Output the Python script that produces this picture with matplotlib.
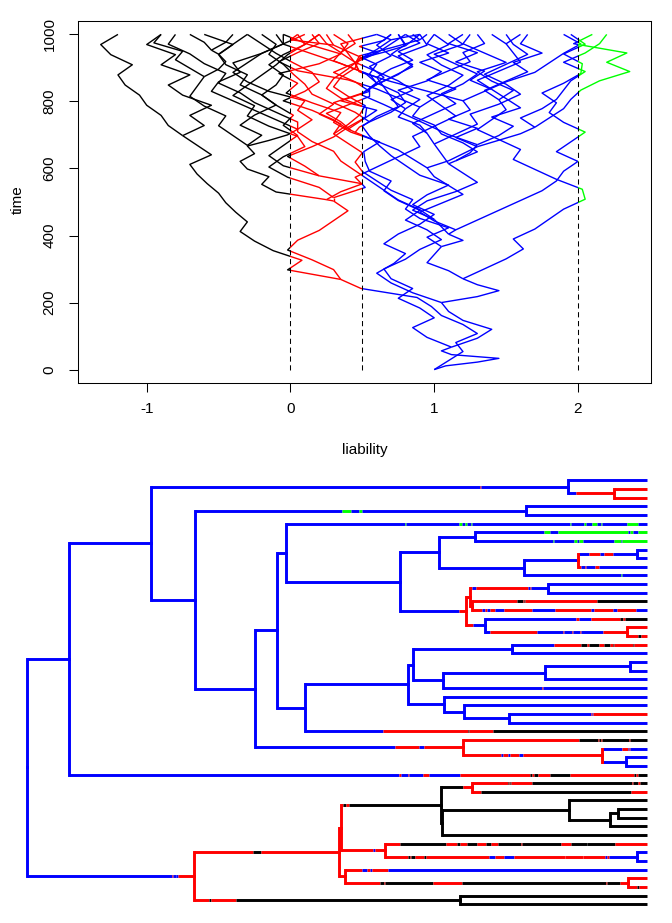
import numpy as np
import matplotlib
matplotlib.use("Agg")
import matplotlib.pyplot as plt
from matplotlib.collections import LineCollection
from matplotlib.patches import Rectangle

plt.rcParams['font.family'] = ['Liberation Sans', 'DejaVu Sans']

# ---------------- tree topology (upper child, lower child) ----------------
children = {
    'root': ('A', 'BA'), 'A': ('B', 't34'), 'B': ('C', 'E'), 'C': ('t0', 'D'),
    'D': ('t1', 't2'), 'E': ('F', 'G'), 'F': ('t3', 't4'), 'G': ('H', 'AF'),
    'H': ('I', 'V'), 'I': ('t5', 'J'), 'J': ('K', 'P'), 'K': ('L', 'M'),
    'L': ('t6', 't7'), 'M': ('N', 't11'), 'N': ('O', 't10'), 'O': ('t8', 't9'),
    'P': ('Q', 'T'), 'Q': ('R', 'S'), 'R': ('t12', 't13'), 'S': ('t14', 't15'),
    'T': ('t16', 'U'), 'U': ('t17', 't18'), 'V': ('W', 't29'), 'W': ('X', 'AC'),
    'X': ('Y', 'Z'), 'Y': ('t19', 't20'), 'Z': ('AA', 't24'), 'AA': ('AB', 't23'),
    'AB': ('t21', 't22'), 'AC': ('t25', 'AD'), 'AD': ('t26', 'AE'),
    'AE': ('t27', 't28'), 'AF': ('t30', 'AG'), 'AG': ('t31', 'AH'),
    'AH': ('t32', 't33'), 'BA': ('BB', 'BL'), 'BB': ('BB2', 'BE'),
    'BB2': ('BC', 'BD'), 'BC': ('BF', 'BC2'), 'BF': ('t35', 't36'),
    'BC2': ('BG', 't41'), 'BG': ('t37', 'BH'), 'BH': ('BI', 't40'),
    'BI': ('t38', 't39'), 'BD': ('t42', 'BJ'), 'BJ': ('t43', 't44'),
    'BE': ('t45', 'BK'), 'BK': ('t46', 't47'), 'BL': ('t48', 't49'),
}

# node times (tips are at 1000)
node_time = {
    'root': 0, 'A': 67, 'B': 200, 'C': 872, 'D': 946, 'E': 271, 'F': 805,
    'G': 367, 'H': 404, 'I': 417, 'J': 602, 'K': 665, 'L': 723, 'M': 802,
    'N': 888, 'O': 984, 'P': 708, 'Q': 714, 'R': 840, 'S': 717, 'T': 739,
    'U': 968, 'V': 448, 'W': 614, 'X': 623, 'Y': 783, 'Z': 671, 'AA': 836,
    'AB': 972, 'AC': 673, 'AD': 705, 'AE': 778, 'AF': 703, 'AG': 928,
    'AH': 966, 'BA': 269, 'BB': 503, 'BB2': 507, 'BC': 667, 'BF': 717,
    'BC2': 669, 'BG': 874, 'BH': 941, 'BI': 953, 'BD': 578, 'BJ': 984,
    'BE': 513, 'BK': 970, 'BL': 698,
}
tip_time = 1000

# liability at nodes and tips
node_liab = {
    'root': 1.00, 'A': 1.12, 'B': 1.05, 'C': 0.6, 'D': 0.35, 'E': 1.2, 'F': 1.45,
    'G': 1.05, 'H': 1.1, 'I': 1.15, 'J': 0.95, 'K': 1.3, 'L': 1.7, 'M': 1.2,
    'N': 0.48, 'O': 0.9, 'P': 0.45, 'Q': 0.42, 'R': 0.55, 'S': 0.4, 'T': 0.55,
    'U': 0.3, 'V': 1.0, 'W': 1.1, 'X': 1.15, 'Y': 0.9, 'Z': 1.3, 'AA': 1.4,
    'AB': 1.5, 'AC': 1.0, 'AD': 0.95, 'AE': 0.8, 'AF': 0.3, 'AG': 0.48,
    'AH': 0.8, 'BA': 0.35, 'BB': 0.3, 'BB2': 0.25, 'BC': -0.3, 'BF': 0.05,
    'BC2': -0.3, 'BG': -0.6, 'BH': -0.5, 'BI': -0.55, 'BD': 0.2, 'BJ': 0.7,
    'BE': 0.3, 'BK': 0.1, 'BL': -0.75,
    't0': 0.8, 't1': 0.2, 't2': 0.4, 't3': 1.25, 't4': 1.65, 't5': 1.95,
    't6': 2.1, 't7': 2.2, 't8': 0.95, 't9': 0.85, 't10': 0.8, 't11': 1.9,
    't12': 0.9, 't13': 0.7, 't14': -0.3, 't15': 0.6, 't16': -0.1, 't17': 0.25,
    't18': 0.05, 't19': 0.15, 't20': 1.3, 't21': 1.6, 't22': 1.4, 't23': 1.2,
    't24': 0.75, 't25': 1.5, 't26': 1.1, 't27': 0.3, 't28': 1.0, 't29': -0.8,
    't30': -0.2, 't31': 0.7, 't32': 0.9, 't33': 0.75, 't34': -0.05,
    't35': -0.05, 't36': 0.1, 't37': -0.9, 't38': -0.7, 't39': -0.4,
    't40': -0.3, 't41': -0.6, 't42': 0.2, 't43': 0.9, 't44': 0.6, 't45': 1.0,
    't46': 0.2, 't47': 0.05, 't48': -1.2, 't49': -0.9,
}

# liability read along each edge (keyed by the edge's child), evenly spaced in time
edge_liab = {
    'A': [1.08, 1.3, 1.45, 1.12, 1.05],
    'BA': [1.1, 1.2, 1.15, 1.3, 1.2, 1.05, 0.98, 0.88, 0.49],
    'B': [1.3, 1.4, 1.2, 1.1],
    't34': [0.95, 0.85, 1.0, 0.9, 0.75, 0.85, 0.7, 0.65, 0.8, 0.9, 1.05, 0.95, 0.8,
            0.9, 0.75, 0.65, 0.7, 0.55, 0.52, 0.51, 0.62, 0.42, 0.3, 0.35, 0.15,
            -0.03, 0.05, -0.08, 0.2, 0.35, 0.12],
    'C': [0.85, 0.7, 0.6, 0.72, 0.8, 0.65, 0.75, 0.9, 1.0, 0.85, 0.95, 1.1, 0.9,
          0.8, 0.7, 0.62, 0.55, 0.5, 0.6, 0.75, 0.7, 0.65],
    'E': [1.3, 1.45, 1.3],
    'F': [1.35, 1.5, 1.62, 1.55, 1.7, 1.8, 1.9, 2.05, 2.03, 1.85, 1.7, 1.55, 1.6,
          1.45, 1.3, 1.4, 1.5],
    't3': [1.55, 1.4, 1.3, 1.5, 1.35, 1.2],
    't4': [1.35, 1.5, 1.65, 1.55, 1.75, 1.6],
    't0': [0.7, 0.85, 0.75, 0.9],
    'D': [0.45, 0.3],
    't1': [0.25], 't2': [0.45],
    'G': [1.1, 0.95, 1.0],
    'H': [1.2],
    't5': [1.3, 1.45, 1.6, 1.75, 1.85, 1.9, 2.0, 1.85, 1.95, 2.05, 1.9, 1.8, 1.85,
           1.75, 1.9, 2.02, 2.03, 1.9, 2.05],
    'J': [1.0, 0.9, 1.05, 1.2, 1.1, 1.0],
    'K': [1.1, 1.2],
    'L': [1.45, 1.6],
    't6': [1.8, 1.9, 1.95, 2.02, 2.15, 2.36, 2.2, 2.34, 1.97],
    't7': [1.6, 1.75, 1.85, 1.9, 1.95, 2.05, 1.9, 2.05, 2.15],
    'M': [1.15, 1.3, 1.1, 1.25],
    'N': [0.95, 0.7],
    'O': [0.45, 0.48, 0.7],
    't10': [0.45, 0.6, 0.7],
    't11': [1.35, 1.5, 1.7, 1.8, 1.9, 2.02],
    'P': [0.85, 0.75, 0.6],
    'R': [0.35, 0.25, 0.4, 0.55],
    't12': [0.7, 0.85, 0.75, 0.95],
    't13': [0.65, 0.55, 0.7, 0.6],
    't14': [0.3, 0.15, -0.05, 0.1, 0.2, 0.15, 0.02, -0.1, -0.2],
    't15': [0.5, 0.6, 0.35, 0.55, 0.45, 0.3, 0.45, 0.4, 0.35],
    'T': [0.48],
    't16': [0.7, 0.8, 0.75, 0.6, 0.52, 0.35, 0.15, -0.05],
    'U': [0.45, 0.3, 0.5, 0.6, 0.55, 0.6, 0.45],
    't18': [0.0],
    'V': [1.05],
    'W': [0.85, 0.95, 1.15, 1.3, 1.2],
    'Y': [1.3, 1.2, 1.05, 1.0, 0.85],
    't19': [0.75, 0.6, 0.4, 0.05, -0.08, 0.05, 0.2],
    't20': [1.0, 1.15, 0.95, 1.1, 1.25, 1.2, 1.35],
    'Z': [1.25],
    'AA': [1.45, 1.55, 1.4, 1.6, 1.5],
    'AB': [1.3, 1.45, 1.6, 1.55],
    't23': [1.25, 1.35, 1.15, 1.3, 1.1],
    't24': [1.1, 0.95, 0.8, 0.65, 0.49, 0.6, 0.75, 0.85, 0.7, 0.8],
    'AC': [1.05],
    't25': [1.15, 1.3, 1.25, 1.45, 1.6, 1.5, 1.35, 1.5, 1.65, 1.55],
    't26': [0.85, 1.0, 1.15, 1.05, 1.2, 1.3, 1.15, 1.0, 1.2],
    'AE': [0.9, 0.75],
    't27': [0.7, 0.85, 0.75, 0.6, 0.45, 0.35, 0.4],
    't28': [0.9, 0.75, 0.95, 1.05, 0.9, 1.1, 0.95],
    't29': [0.9, 0.75, 0.65, 0.55, 0.45, 0.35, 0.3, 0.15, 0.05, 0.05, -0.1, -0.25,
            -0.35, -0.5, -0.45, -0.6, -0.7, -0.85],
    'AF': [0.95, 1.1, 0.9, 0.8, 0.85, 0.7, 0.6, 0.5, 0.45, 0.5, 0.4],
    't30': [0.35, 0.2, 0.3, 0.15, 0.1, 0.02, -0.05, -0.15, -0.1],
    'AG': [0.4, 0.48, 0.52, 0.4, 0.3, 0.35, 0.45],
    't31': [0.6, 0.48, 0.65],
    'AH': [0.65],
    'BB': [0.3, 0.15, -0.02, 0.05, 0.2, 0.3, 0.4],
    'BC': [-0.1, -0.2, -0.15, -0.3, -0.35, -0.25],
    'BF': [-0.15, -0.02],
    't35': [0.15, 0.05, 0.1, -0.15, -0.3, -0.4, -0.3, -0.2, -0.05],
    't36': [-0.1, -0.25, -0.4, -0.55, -0.5, -0.35, -0.4, -0.2, -0.05],
    'BG': [-0.4, -0.5, -0.45, -0.6, -0.7, -0.65],
    't37': [-0.7, -0.8, -0.75, -0.95],
    'BH': [-0.5, -0.45],
    't38': [-0.6], 't39': [-0.45], 't40': [-0.4],
    't41': [-0.2, -0.35, -0.25, -0.1, -0.2, -0.35, -0.3, -0.45, -0.5, -0.4],
    'BD': [0.35, 0.5],
    't42': [-0.05, -0.15, -0.05, 0.05, -0.05, 0.02, -0.1, -0.2, -0.1, -0.05, -0.15,
            -0.05, 0.1],
    'BJ': [0.1, -0.02, 0.15, 0.3, 0.4, 0.52, 0.53, 0.35, 0.25, 0.3, 0.4, 0.48, 0.6],
    't45': [0.52, 0.45, 0.6, 0.75, 0.9, 0.85, 1.0, 1.15, 1.05, 0.95, 1.1, 1.2, 1.05,
            0.95, 1.1],
    'BK': [0.2, -0.02, -0.15, -0.05, 0.1, 0.05, -0.15, -0.3, -0.25, -0.4, -0.3,
           -0.2, -0.1, -0.02],
    'BL': [-0.02, 0.08, -0.12, -0.25, -0.35, -0.3, -0.38, -0.45, -0.5, -0.58,
           -0.65, -0.7, -0.55, -0.65],
    't48': [-0.85, -0.9, -1.0, -1.05, -1.15, -1.2, -1.1, -1.25, -1.32],
    't49': [-0.6, -0.7, -0.55, -0.75, -0.85, -0.7, -0.9, -0.8, -1.0],
}

# mapped regimes along each edge of the tree: (start time, state)
edge_paint = {
    'A': 'b', 'B': 'b',
    't34': [(67, 'b'), (600, 'r'), (603, 'b'), (614, 'r'), (616, 'b'), (638, 'r'),
            (648, 'b'), (698, 'r'), (812, 'k'), (815, 'r'), (817, 'k'), (824, 'r'),
            (843, 'k'), (876, 'r'), (979, 'k'), (983, 'r'), (985, 'k')],
    'C': [(200, 'b'), (731, 'r'), (733, 'b')],
    't0': 'b', 'D': [(872, 'b'), (886, 'r')], 't1': 'r', 't2': 'r',
    'E': 'b', 'F': [(271, 'b'), (508, 'g'), (522, 'b'), (535, 'g'), (540, 'b')],
    't3': 'b', 't4': 'b', 'G': 'b', 'H': 'b', 'I': 'b',
    't5': [(417, 'b'), (609, 'g'), (611, 'b'), (696, 'g'), (701, 'b'), (707, 'g'),
           (709, 'b'), (716, 'g'), (718, 'b'), (875, 'g'), (877, 'b'), (899, 'g'),
           (901, 'b'), (912, 'g'), (920, 'b'), (925, 'g'), (927, 'b'), (968, 'g'),
           (986, 'b')],
    'J': 'b', 'K': 'b', 'L': 'b',
    't6': [(723, 'b'), (834, 'g'), (843, 'b'), (857, 'g'), (969, 'b'), (973, 'g'),
           (977, 'b'), (986, 'g')],
    't7': [(723, 'b'), (848, 'g'), (850, 'b'), (883, 'g'), (887, 'b'), (890, 'g'),
           (896, 'b'), (946, 'g'), (958, 'b'), (960, 'g')],
    'M': 'b', 'N': 'b',
    'O': [(888, 'r'), (890, 'b'), (906, 'r'), (924, 'b'), (931, 'r'), (945, 'b')],
    't8': 'b', 't9': 'b',
    't10': [(888, 'r'), (894, 'b'), (900, 'r'), (902, 'b'), (916, 'r'), (923, 'b')],
    't11': [(802, 'b'), (958, 'g'), (960, 'b')],
    'P': [(602, 'b'), (696, 'r')], 'Q': 'r',
    'R': [(714, 'r'), (717, 'b'), (724, 'r'), (808, 'b'), (812, 'r'), (813, 'b')],
    't12': 'b', 't13': 'b', 'S': 'r',
    't14': [(717, 'r'), (790, 'k'), (800, 'r'), (802, 'k'), (804, 'r'), (919, 'k')],
    't15': [(717, 'r'), (734, 'b'), (738, 'r'), (742, 'b'), (746, 'r'), (755, 'b'),
            (769, 'r'), (814, 'b'), (852, 'r'), (910, 'b'), (914, 'r'), (945, 'b'),
            (952, 'r'), (983, 'b')],
    'T': [(708, 'r'), (720, 'b')],
    't16': [(739, 'b'), (886, 'r'), (890, 'b'), (910, 'r'), (957, 'k'), (962, 'r'),
            (964, 'k')],
    'U': [(739, 'b'), (747, 'r'), (823, 'b'), (865, 'r'), (866, 'b'), (879, 'r'),
          (880, 'b'), (892, 'r'), (893, 'b'), (929, 'r')],
    't17': 'r', 't18': [(968, 'r'), (986, 'k'), (991, 'r')],
    'V': 'b', 'W': 'b', 'X': 'b', 'Y': 'b',
    't19': [(783, 'b'), (850, 'r'), (894, 'k'), (903, 'r'), (907, 'k'), (923, 'r'),
            (931, 'k'), (940, 'r'), (945, 'k'), (947, 'r'), (977, 'k'), (979, 'r')],
    't20': 'b', 'Z': 'b', 'AA': 'b', 'AB': 'b', 't21': 'b', 't22': 'b', 't23': 'b',
    't24': [(671, 'b'), (830, 'r'), (832, 'b')],
    'AC': 'b', 't25': 'b', 'AD': 'b', 't26': 'b', 'AE': 'b',
    't27': [(778, 'b'), (909, 'r'), (912, 'b'), (913, 'r')],
    't28': 'b',
    't29': [(448, 'b'), (574, 'r'), (711, 'k'), (713, 'r'), (752, 'k')],
    'AF': [(367, 'b'), (594, 'r'), (632, 'b'), (641, 'r')],
    't30': [(703, 'r'), (890, 'k'), (921, 'r'), (923, 'k'), (926, 'r'), (928, 'k'),
            (971, 'r'), (972, 'k')],
    'AG': [(703, 'r'), (765, 'b'), (768, 'r'), (776, 'b'), (779, 'r'), (794, 'b'),
           (800, 'r')],
    't31': [(928, 'r'), (929, 'b'), (959, 'r'), (969, 'b'), (971, 'r'), (973, 'b')],
    'AH': [(928, 'r'), (929, 'b')], 't32': 'b', 't33': 'b',
    'BA': [(0, 'b'), (234, 'r'), (236, 'b'), (240, 'r'), (241, 'b'), (244, 'r')],
    'BB': [(269, 'r'), (365, 'k'), (377, 'r')],
    'BB2': 'r',
    'BC': [(507, 'r'), (510, 'k'), (515, 'r'), (520, 'k')],
    'BF': [(667, 'k'), (703, 'r')],
    't35': [(717, 'r'), (775, 'k'), (777, 'r'), (779, 'k'), (781, 'r'), (814, 'k'),
            (976, 'r'), (977, 'k'), (986, 'r'), (988, 'k')],
    't36': [(717, 'r'), (732, 'k'), (974, 'r')],
    'BC2': 'k', 'BG': 'k', 't37': 'k', 'BH': 'k', 'BI': 'k', 't38': 'k',
    't39': 'k', 't40': 'k', 't41': 'k',
    'BD': [(507, 'r'), (558, 'b'), (562, 'r')],
    't42': [(578, 'r'), (602, 'k'), (676, 'r'), (693, 'k'), (698, 'r'), (710, 'k'),
            (725, 'r'), (741, 'k'), (748, 'r'), (760, 'k'), (797, 'r'), (798, 'k'),
            (862, 'r'), (878, 'k'), (903, 'r'), (904, 'k'), (948, 'r')],
    'BJ': [(578, 'r'), (614, 'k'), (617, 'r'), (620, 'k'), (625, 'r'), (640, 'k'),
           (643, 'r'), (745, 'b'), (755, 'r'), (769, 'b'), (786, 'r'), (867, 'b'),
           (868, 'r'), (896, 'b'), (897, 'r'), (932, 'b'), (936, 'r'), (939, 'b')],
    't43': 'b', 't44': 'b', 'BE': 'r',
    't45': [(513, 'r'), (541, 'b'), (549, 'r'), (553, 'b'), (557, 'r'), (582, 'b')],
    'BK': [(513, 'r'), (570, 'k'), (576, 'r'), (577, 'k'), (655, 'r'), (701, 'k'),
           (934, 'r'), (936, 'k'), (957, 'r')],
    't46': 'r', 't47': [(970, 'r'), (984, 'k'), (987, 'r')],
    'BL': [(269, 'r'), (293, 'k'), (296, 'r'), (337, 'k')],
    't48': 'k', 't49': 'k',
}

state_color = {'k': '#000000', 'r': '#FF0000', 'b': '#0000FF', 'g': '#00FF00'}
thresholds = [0.0, 0.5, 2.0]
regimes = [(-10, 0.0, 'k'), (0.0, 0.5, 'r'), (0.5, 2.0, 'b'), (2.0, 10, 'g')]
x_ticks = [-1, 0, 1, 2]
y_ticks = [0, 200, 400, 600, 800, 1000]

# ---------------- helpers ----------------
parent_of = {}
for p, cs in children.items():
    for c in cs:
        parent_of[c] = p

def t_of(n):
    return node_time.get(n, tip_time)

ycache = {}
def y_of(n):
    if n in ycache:
        return ycache[n]
    if n in children:
        v = np.mean([y_of(c) for c in children[n]])
    else:
        v = float(int(n[1:]))
    ycache[n] = v
    return v

# preorder edge list
edges = []
def walk(n):
    if n in children:
        for c in children[n]:
            edges.append((n, c))
            walk(c)
walk('root')

# ---------------- figure ----------------
W, H = 672, 923
fig = plt.figure(figsize=(W / 100, H / 100), dpi=100)

# top panel
ax1 = fig.add_axes([78 / W, 1 - 383 / H, (651 - 78) / W, (383 - 21) / H])
paths = []
for p, c in edges:
    vals = [node_liab[p]] + edge_liab.get(c, []) + [node_liab[c]]
    ts = np.linspace(t_of(p), t_of(c), len(vals))
    paths.append(np.column_stack([vals, ts]))
for lo, hi, s in regimes:
    lc = LineCollection(paths, colors=state_color[s], linewidths=1.0)
    ax1.add_collection(lc)
    clip = Rectangle((lo, -200), hi - lo, 1500, transform=ax1.transData)
    lc.set_clip_path(clip)
for th in thresholds:
    ax1.plot([th, th], [0, tip_time], color='black', lw=0.75,
             linestyle=(0, (5.0, 3.5)))
ax1.set_xlim(-1.478, 2.508)
ax1.set_ylim(-40, 1040)
ax1.set_xticks(x_ticks)
ax1.set_xticklabels([str(v) for v in x_ticks])
ax1.set_yticks(y_ticks)
ax1.set_yticklabels([str(v) for v in y_ticks], rotation=90, va='center')
ax1.tick_params(direction='out', length=6.5, width=0.75, labelsize=11)
ax1.tick_params(axis='x', pad=7)
ax1.tick_params(axis='y', pad=9)
for sp in ax1.spines.values():
    sp.set_linewidth(0.75)
fig.text(364.5 / W, 1 - 450 / H, 'liability', ha='center', va='center', fontsize=11)
fig.text(18 / W, 1 - 200 / H, 'time', ha='center', va='center', fontsize=11,
         rotation=90)

# bottom panel: painted tree
ax2 = fig.add_axes([0, 0, 1, 461.5 / H])
ax2.set_xlim(-27 / 0.62, (W - 27) / 0.62)
ax2.set_ylim((H - 480.3) / 8.653, (461.5 - 480.3) / 8.653)
ax2.axis('off')
hsegs, hcols, vsegs, vcols = [], [], [], []
for p, c in edges:
    tp, tc = t_of(p), t_of(c)
    paint = edge_paint[c]
    if isinstance(paint, str):
        paint = [(tp, paint)]
    yc = y_of(c)
    for i, (ts, s) in enumerate(paint):
        te = paint[i + 1][0] if i + 1 < len(paint) else tc
        hsegs.append([(max(ts, tp), yc), (te, yc)])
        hcols.append(state_color[s])
    vsegs.append([(tp, y_of(p)), (tp, yc)])
    vcols.append(state_color[paint[0][1]])
ax2.add_collection(LineCollection(hsegs, colors=hcols, linewidths=2.1,
                                  capstyle='butt'))
ax2.add_collection(LineCollection(vsegs, colors=vcols, linewidths=2.1,
                                  capstyle='projecting'))

fig.savefig('out.png', dpi=100)
